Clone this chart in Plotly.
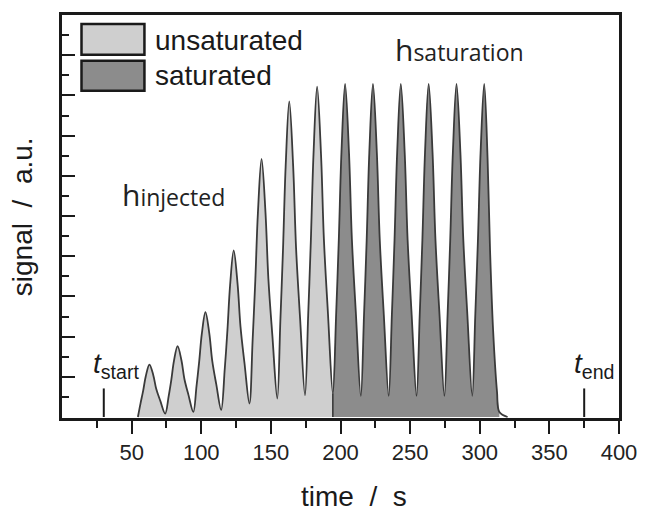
import plotly.graph_objects as go

# ---------------- data ----------------
# time (s) and signal (a.u.) samples along the detector trace
TIME = [
    54.5,
    56.4, 58.3, 60.2, 62.8, 65.6, 67.7, 70.6, 74.1,
    76.6, 78.5, 80.4, 83.0, 85.8, 87.9, 90.8, 94.3,
    96.6, 98.5, 100.4, 103.0, 105.8, 107.9, 110.8, 114.3,
    116.9, 118.8, 120.7, 123.3, 126.1, 128.2, 131.1, 134.6,
    136.9, 138.8, 140.7, 143.3, 146.1, 148.2, 151.1, 154.6,
    156.8, 158.7, 160.6, 163.2, 166.0, 168.1, 171.0, 174.5,
    176.8, 178.7, 180.6, 183.2, 186.0, 188.1, 191.0, 194.5,
    196.9, 198.8, 200.7, 203.3, 206.1, 208.2, 211.1, 214.6,
    216.9, 218.8, 220.7, 223.3, 226.1, 228.2, 231.1, 234.6,
    236.9, 238.8, 240.7, 243.3, 246.1, 248.2, 251.1, 254.6,
    256.9, 258.8, 260.7, 263.3, 266.1, 268.2, 271.1, 274.6,
    276.9, 278.8, 280.7, 283.3, 286.1, 288.2, 291.1, 294.6,
    296.8, 298.7, 300.6, 303.2, 305.6, 307.4, 309.6, 312.4, 314.1,
    320.0,
]
SIGNAL = [
    0.00,
    0.68, 1.31, 2.04, 2.61, 2.07, 1.39, 0.80, 0.17,
    1.04, 1.85, 2.79, 3.53, 2.81, 1.89, 1.10, 0.25,
    1.54, 2.74, 4.13, 5.22, 4.15, 2.79, 1.62, 0.35,
    2.41, 4.32, 6.54, 8.29, 6.61, 4.48, 2.65, 0.67,
    3.83, 6.76, 10.16, 12.84, 10.22, 6.88, 4.02, 0.92,
    4.76, 8.31, 12.45, 15.70, 12.48, 8.39, 4.88, 1.08,
    5.07, 8.76, 13.05, 16.43, 13.07, 8.80, 5.14, 1.17,
    5.17, 8.87, 13.18, 16.57, 13.16, 8.81, 5.09, 1.05,
    5.09, 8.81, 13.16, 16.57, 13.16, 8.81, 5.09, 1.05,
    5.09, 8.81, 13.16, 16.57, 13.16, 8.81, 5.09, 1.05,
    5.09, 8.81, 13.16, 16.57, 13.16, 8.81, 5.09, 1.05,
    5.09, 8.81, 13.16, 16.57, 13.16, 8.81, 5.09, 1.05,
    5.09, 8.81, 13.16, 16.57, 12.90, 8.30, 4.30, 1.25, 0.25,
    0.00,
]
T_SPLIT = 194.5        # unsaturated -> saturated boundary (s)
T_FILL_END = 314.1     # end of the shaded saturated area (s)
T_START = 30
T_END = 375
MARKER_HEIGHT = 1.42

X_TICKS = [50, 100, 150, 200, 250, 300, 350, 400]
X_MINOR = [25, 75, 125, 175, 225, 275, 325, 375]
Y_MAJOR = [2, 4, 6, 8, 10, 12, 14, 16, 18, 20]
Y_MINOR = [1, 3, 5, 7, 9, 11, 13, 15, 17, 19]

LEGEND_LABELS = ["unsaturated", "saturated"]

# ---------------- styles ----------------
LIGHT = "#cfcfcf"
DARK = "#8c8c8c"
LINE = "#3a3a3a"
INK = "#1a1a1a"
SANS = "Liberation Sans, Arial, sans-serif"
OPEN = "Open Sans, sans-serif"

unsat = [(t, s) for t, s in zip(TIME, SIGNAL) if t <= T_SPLIT]
sat = [(t, s) for t, s in zip(TIME, SIGNAL) if T_SPLIT <= t <= T_FILL_END]
split_val = SIGNAL[TIME.index(T_SPLIT)]

fig = go.Figure()
fig.add_trace(go.Scatter(
    x=[p[0] for p in unsat], y=[p[1] for p in unsat], mode="lines",
    line=dict(width=0, shape="spline", smoothing=1.0), fill="tozeroy",
    fillcolor=LIGHT, hoverinfo="skip", showlegend=False))
fig.add_trace(go.Scatter(
    x=[p[0] for p in sat], y=[p[1] for p in sat], mode="lines",
    line=dict(width=0, shape="spline", smoothing=1.0), fill="tozeroy",
    fillcolor=DARK, hoverinfo="skip", showlegend=False))
# boundary between the two shaded regions
fig.add_trace(go.Scatter(
    x=[T_SPLIT, T_SPLIT], y=[0, split_val], mode="lines",
    line=dict(color=LINE, width=1.6), hoverinfo="skip", showlegend=False))
# the trace itself
fig.add_trace(go.Scatter(
    x=TIME, y=SIGNAL, mode="lines",
    line=dict(color=LINE, width=1.8, shape="spline", smoothing=1.0),
    showlegend=False))
# t_start / t_end markers
for tm in (T_START, T_END):
    fig.add_trace(go.Scatter(
        x=[tm, tm], y=[0, MARKER_HEIGHT], mode="lines",
        line=dict(color=INK, width=2), hoverinfo="skip", showlegend=False))

# legend boxes (drawn manually to match the big swatches)
shapes = [
    dict(type="rect", xref="x", yref="y", x0=14.0, x1=59.2, y0=18.02, y1=19.55,
         fillcolor=LIGHT, line=dict(color=INK, width=2.5), layer="above"),
    dict(type="rect", xref="x", yref="y", x0=14.0, x1=59.2, y0=16.23, y1=17.72,
         fillcolor=DARK, line=dict(color=INK, width=2.5), layer="above"),
]

annotations = [
    dict(text=LEGEND_LABELS[0], x=65.5, y=18.72, xref="x", yref="y",
         xanchor="left", yanchor="middle", showarrow=False,
         font=dict(family=SANS, size=28, color=INK)),
    dict(text=LEGEND_LABELS[1], x=65.5, y=16.99, xref="x", yref="y",
         xanchor="left", yanchor="middle", showarrow=False,
         font=dict(family=SANS, size=28, color=INK)),
    dict(text="h<span style='font-size:23px'>injected</span>", x=42.0, y=11.07,
         xref="x", yref="y", xanchor="left", yanchor="middle", showarrow=False,
         font=dict(family=OPEN, size=30, color="#222222")),
    dict(text="h<span style='font-size:23px'>saturation</span>", x=238.0, y=18.26,
         xref="x", yref="y", xanchor="left", yanchor="middle", showarrow=False,
         font=dict(family=OPEN, size=30, color="#222222")),
    dict(text="<i>t</i><sub>start</sub>", x=20.5, y=2.57, xref="x", yref="y",
         xanchor="left", yanchor="middle", showarrow=False,
         font=dict(family=SANS, size=28, color=INK)),
    dict(text="<i>t</i><sub>end</sub>", x=366.3, y=2.57, xref="x", yref="y",
         xanchor="left", yanchor="middle", showarrow=False,
         font=dict(family=SANS, size=28, color=INK)),
    dict(text="time\u00a0\u00a0/\u00a0\u00a0s", x=0.524, y=-0.196, xref="paper",
         yref="paper", xanchor="center", yanchor="middle", showarrow=False,
         font=dict(family=SANS, size=28, color=INK)),
    dict(text="signal\u00a0\u00a0/\u00a0\u00a0a.u.", x=-0.0706, y=0.5, xref="paper",
         yref="paper", xanchor="center", yanchor="middle", textangle=-90,
         showarrow=False, font=dict(family=SANS, size=28, color=INK)),
]

fig.update_layout(
    width=649, height=511,
    margin=dict(l=62, r=21, t=14, b=93, pad=0),
    paper_bgcolor="white", plot_bgcolor="white",
    shapes=shapes, annotations=annotations,
    xaxis=dict(
        range=[0, 400], showgrid=False, zeroline=False,
        showline=True, linecolor=INK, linewidth=2.5, mirror=True,
        tickmode="array", tickvals=X_TICKS, ticktext=[str(v) for v in X_TICKS],
        ticks="outside", ticklen=13, tickwidth=2, tickcolor=INK,
        tickfont=dict(family=SANS, size=22, color="#222222"),
        minor=dict(tickvals=X_MINOR, ticks="outside", ticklen=7, tickwidth=2,
                   tickcolor=INK, showgrid=False),
    ),
    yaxis=dict(
        range=[-0.05, 20.0], showgrid=False, zeroline=False,
        showline=True, linecolor=INK, linewidth=2.5, mirror=True,
        tickmode="array", tickvals=Y_MAJOR, showticklabels=False,
        ticks="inside", ticklen=13, tickwidth=2, tickcolor=INK,
        minor=dict(tickvals=Y_MINOR, ticks="inside", ticklen=7, tickwidth=2,
                   tickcolor=INK, showgrid=False),
    ),
)

fig.write_html("out.html")
